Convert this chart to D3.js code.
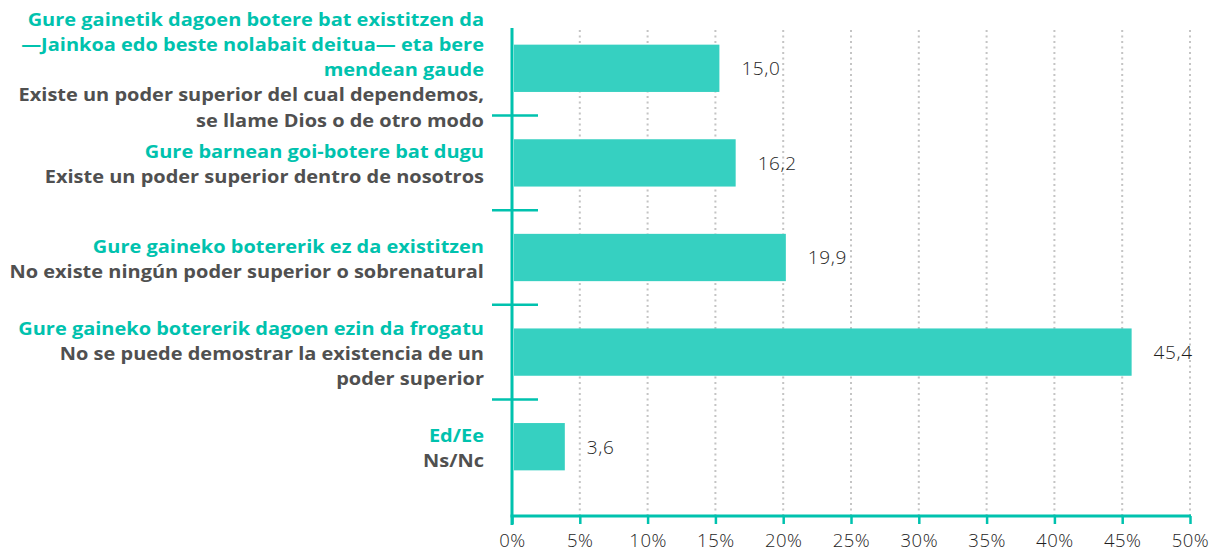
<!DOCTYPE html>
<html>
<head>
<meta charset="utf-8">
<script src="https://cdn.jsdelivr.net/npm/d3@7"></script>
<style>
  html, body { margin: 0; padding: 0; background: #ffffff; }
  svg { display: block; }
</style>
</head>
<body>
<svg id="chart" width="1213" height="554"></svg>
<script>
// ---- data ----
const categoriesEu = [
  ["Gure gainetik dagoen botere bat existitzen da", "—Jainkoa edo beste nolabait deitua— eta bere", "mendean gaude"],
  ["Gure barnean goi-botere bat dugu"],
  ["Gure gaineko botererik ez da existitzen"],
  ["Gure gaineko botererik dagoen ezin da frogatu"],
  ["Ed/Ee"]
];
const categoriesEs = [
  ["Existe un poder superior del cual dependemos,", "se llame Dios o de otro modo"],
  ["Existe un poder superior dentro de nosotros"],
  ["No existe ningún poder superior o sobrenatural"],
  ["No se puede demostrar la existencia de un", "poder superior"],
  ["Ns/Nc"]
];
const values = [15.0, 16.2, 19.9, 45.4, 3.6];
const xTicks = [0, 5, 10, 15, 20, 25, 30, 35, 40, 45, 50];

// ---- style ----
const teal = "#00c2ae";
const barColor = "#36d0c1";
const grayText = "#505050";
const gridColor = "#c4c4c4";
const labelFont = "'Open Sans', Lato, sans-serif";
const numFont = "'Open Sans', Lato, sans-serif";

const svg = d3.select("#chart");
const xLeft = 512, xRight = 1190, axisY = 516, axisTop = 28;
const labelRight = 484;

const x = d3.scaleLinear().domain([0, 50]).range([xLeft, xRight]);
const y = d3.scaleBand().domain(d3.range(values.length)).range([21, 494])
  .paddingInner(0.5).paddingOuter(0.25);

// grid lines
svg.append("g").selectAll("line").data(xTicks.filter(d => d > 0)).join("line")
  .attr("x1", d => x(d)).attr("x2", d => x(d))
  .attr("y1", axisTop + 2).attr("y2", axisY)
  .attr("stroke", gridColor).attr("stroke-width", 2)
  .attr("stroke-dasharray", "2,3.5");

// bars
svg.append("g").selectAll("rect").data(values).join("rect")
  .attr("x", x(0) + 2)
  .attr("y", (d, i) => y(i))
  .attr("width", d => x(d) - x(0) + 2)
  .attr("height", y.bandwidth())
  .attr("fill", barColor);

// value labels
svg.append("g").selectAll("text").data(values).join("text")
  .attr("x", d => x(d) + 26)
  .attr("y", (d, i) => y(i) + y.bandwidth() / 2)
  .attr("dy", "0.36em")
  .attr("font-family", numFont)
  .attr("font-weight", 300)
  .attr("font-size", 19)
  .attr("letter-spacing", 0.6)
  .attr("fill", "#1e1e1e")
  .text(d => d3.format(".1f")(d).replace(".", ","));

// x axis
const xAxis = d3.axisBottom(x).tickValues(xTicks).tickSize(8).tickPadding(10)
  .tickFormat(d => d + "%");
const gx = svg.append("g").attr("transform", `translate(0,${axisY})`).call(xAxis);
gx.select(".domain").remove();
gx.selectAll(".tick line").attr("stroke", teal).attr("stroke-width", 2.5);
gx.selectAll(".tick text").attr("font-family", numFont).attr("font-weight", 300)
  .attr("font-size", 18.5).attr("letter-spacing", 0.5).attr("fill", "#1e1e1e");
svg.append("line").attr("x1", xLeft - 1.5).attr("x2", xRight + 1)
  .attr("y1", axisY).attr("y2", axisY).attr("stroke", teal).attr("stroke-width", 3);

// y axis line
svg.append("line").attr("x1", xLeft).attr("x2", xLeft)
  .attr("y1", axisTop).attr("y2", axisY + 9).attr("stroke", teal).attr("stroke-width", 3);

// category boundary ticks
const step = y.step();
svg.append("g").selectAll("line").data(d3.range(1, values.length)).join("line")
  .attr("x1", xLeft - 20).attr("x2", xLeft + 26)
  .attr("y1", i => y(i) - step * y.paddingInner() / 2)
  .attr("y2", i => y(i) - step * y.paddingInner() / 2)
  .attr("stroke", teal).attr("stroke-width", 2.5);

// category labels (horizontally widened to mimic the original's wide typeface)
const lineH = 25.2;
const labels = svg.append("g")
  .attr("transform", `translate(${labelRight},0) scale(1.08,1) translate(${-labelRight},0)`);
values.forEach((v, i) => {
  const lines = categoriesEu[i].map(t => ({t, c: teal}))
    .concat(categoriesEs[i].map(t => ({t, c: grayText})));
  const n = lines.length;
  const cy = y(i) + y.bandwidth() / 2;
  const first = cy - (n - 1) / 2 * lineH + 8;
  const txt = labels.append("text")
    .attr("text-anchor", "end")
    .attr("font-family", labelFont)
    .attr("font-weight", 700)
    .attr("font-size", 18.5);
  lines.forEach((l, k) => {
    txt.append("tspan").attr("x", labelRight).attr("y", first + k * lineH)
      .attr("fill", l.c).text(l.t);
  });
});
</script>
</body>
</html>
